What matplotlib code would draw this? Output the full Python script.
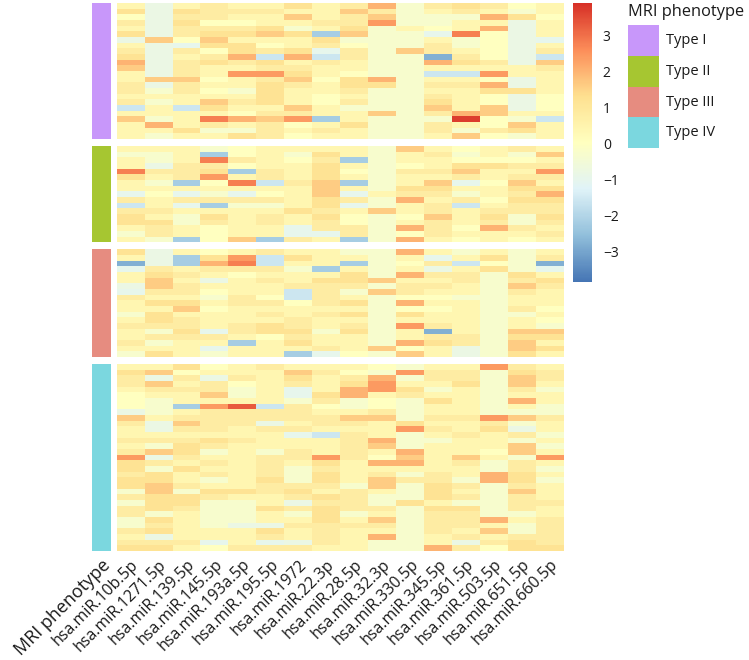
import numpy as np
import matplotlib
matplotlib.use("Agg")
import matplotlib.pyplot as plt
from matplotlib.colors import LinearSegmentedColormap, Normalize
from matplotlib.patches import Rectangle

plt.rcParams['font.family'] = ['Open Sans', 'DejaVu Sans']

# ------------------------------------------------------------------------
mirnas = ["hsa.miR.10b.5p", "hsa.miR.1271.5p", "hsa.miR.139.5p", "hsa.miR.145.5p",
          "hsa.miR.193a.5p", "hsa.miR.195.5p", "hsa.miR.1972", "hsa.miR.22.3p",
          "hsa.miR.28.5p", "hsa.miR.32.3p", "hsa.miR.330.5p", "hsa.miR.345.5p",
          "hsa.miR.361.5p", "hsa.miR.503.5p", "hsa.miR.651.5p", "hsa.miR.660.5p"]
phenotypes = ["Type I", "Type II", "Type III", "Type IV"]
pheno_colors = ["#C897FA", "#A6C631", "#E68C80", "#7BD7DF"]

# z-score level per letter
LEVELS = dict(zip("ABCDEFGHIJKLMNOPQ",
                  [-3.5, -2.8, -2.2, -1.6, -1.0, -0.8, -0.3, 0.0, 0.4,
                   0.8, 1.2, 1.6, 2.0, 2.4, 2.8, 3.3, 3.7]))

type1 = ["IFIJIIKIJMGJKJHI", "KFKJJJIILJGIJIGI", "HFJJIILIJLGGGMKH", "JFKHHIIJJNGGIIFI",
         "IFJJJKGIKGIHIMFI", "KFJKKLKCLGGEOHFI", "FLHLIIIKGGGIGHFE", "IFEKKHIJHGGJGHFI",
         "JFJHKJKEJGLJIHFJ", "KFIJMDMDJGGBJHFD", "MFJKJKIJIGGMKJFL", "LFJIIJJIIGGIIIIJ",
         "IFJINNKIHGGDDNII", "ILLHIJLHKMGIIHFI", "JFJIIKJIKKGJJMFI", "JGJHGKIIJGGIIKKI",
         "IIIIIKIHIGGJIHFH", "JGILJKIHJGGKIHFH", "DIDKIILIGGGLILFH", "IIIIHJJIILGJMLII",
         "LGIOMLNCIGGGQHGD", "IMIJIJHIKGGJIHLI", "IIKGGJIJIGGJGJKI", "IGIIKJHIIGGILHGI"]

type2 = ["IIIGHIIIIGLIHIJI", "GGICHIGKIGIJGIGL", "IGIOJIHJCGIIHHHI", "IFJJHIIKIGHIKKJJ",
         "OJJKCJIKHGJJLIIN", "KIJNIJIKIGIIJIJJ", "IGCHODJLCGILEHLI", "IIIIIIILIGKKIIKK",
         "EHEGEHILEIJJGIJM", "JIJJJJIKJGMIJHKK", "DIECGGIKEGIJDIJJ", "JJIIIIKJILIJIJJJ",
         "KIGKIJIKHGHLIKGK", "KKGJIJIJHGIJIJGJ", "IJIHIIEJJGMJHMJI", "GJIHIIEEJGHJIIIJ",
         "IGCHLCJICGMIHIHI"]

type3 = ["KFIHIJIIGGMIGIGI", "IFCKNDKIIGIEIKGJ", "BFCMODIICGHJDHGB", "EJIJJJGCIGIFIKGE",
         "IKJIHIIIKGMJJGKI", "ILIFIJIKKLIIJGJK", "FLJIIIJJJGJJIGLJ", "EJJHIIDJGLJIIGJI",
         "JIIGJHDJIGHHGGII", "IKKIJJHJKGMIIGII", "IILHIIIIIGHHIGJH", "GKIIIJIJKGKIIGGI",
         "IKJIIIJIIGIIIGIH", "JJJIJKJIJGNJIGIG", "IGKEJKKGKGIBIGLL", "IJJJIHJIIGIJJGKK",
         "JGIICIKIIGMKJGLI", "IIIEIIIJILHIFGLK", "GKIGIICEHGLIFGKI"]

type4 = ["IIKHIJIIIHGIINJI", "KLHIIILJHGNJJGKJ", "JFJFJIKIJMGJJGLJ", "JLIJHIJIKNIIKGLI",
         "IJJJGIEIMNKGIGJG", "HIILGIEKMIJIIGII", "HGIIIIGJGHGKIGMI", "HGCNPDJHGHGIIGIG",
         "FGIJJJJIIJGIIGGG", "LIJJJJJJLLGJJNLJ", "JFLJJFIJJIKIIJGI", "IFJJIJJIIINJIKFI",
         "IIIIIIEDJIGIJIJG", "JJJKJIIIJMGGIIGI", "IGKJIIIIJLGIIILG", "JLKGIGJIJIMIIHLI",
         "NFJIIJJNJHLILIGN", "KJIJIJIKIMMIJGJI", "KGKIIJGJIIIIIGJG", "JKIJIJGKIJGJIMKI",
         "KKIGIKGKILJJGMKG", "KLJIIJJJGLGKJGJI", "GLGKKJKIJIGKIGLI", "JKKJIIJKJGGKJGJI",
         "GKKGGIFJJGKIGGJJ", "JKJGGKJKJJGKKGJI", "JGIGGIGKGIGJJGGI", "GKIGGIIKILGJJMIJ",
         "GJIGFFJJJJGJJIGJ", "JKIIIKIJIIGJILGJ", "IFIIIJIJIMGIJIJJ", "JJJEIEFJIGGIFJKJ",
         "KKIHJJJIIGGMJHKK"]
# ------------------------------------------------------------------------

groups = [type1, type2, type3, type4]
cmap = LinearSegmentedColormap.from_list(
    "rdylbu", ["#4575B4", "#91BFDB", "#E0F3F8", "#FFFFBF", "#FEE090", "#FC8D59", "#D73027"])
norm = Normalize(vmin=-3.85, vmax=3.9)

W, H = 749, 660
fig = plt.figure(figsize=(W / 100, H / 100), dpi=100)
ax = fig.add_axes([91.7 / W, 1 - 551 / H, (564 - 91.7) / W, 548 / H])

gap = 1.235       # white space between the phenotype blocks, in rows
ann_l, ann_w = -0.89, 0.69
y0 = 0.0
for rows, col in zip(groups, pheno_colors):
    assert all(len(r) == len(mirnas) for r in rows)
    z = np.array([[LEVELS[c] for c in r] for r in rows])
    n = len(rows)
    ax.pcolormesh(np.arange(len(mirnas) + 1), y0 + np.arange(n + 1), z,
                  cmap=cmap, norm=norm, linewidth=0, antialiased=False)
    ax.add_patch(Rectangle((ann_l, y0), ann_w, n, color=col, lw=0))
    y0 += n + gap

ax.set_xlim(ann_l, len(mirnas))
ax.set_ylim(y0 - gap, 0)
for s in ax.spines.values():
    s.set_visible(False)
ax.set_yticks([])
ax.set_xticks([ann_l + ann_w / 2] + list(np.arange(len(mirnas)) + 0.5))
labels = ax.set_xticklabels(["MRI phenotype"] + mirnas, rotation=45, ha="right",
                            rotation_mode="anchor", fontsize=11.5, color="#1a1a1a")
labels[0].set_fontsize(13)
ax.tick_params(axis="x", length=0, pad=4)

# colour key
cax = fig.add_axes([573.3 / W, 1 - 282 / H, 18.4 / W, 279 / H])
sm = plt.cm.ScalarMappable(norm=norm, cmap=cmap)
cb = fig.colorbar(sm, cax=cax, ticks=[-3, -2, -1, 0, 1, 2, 3])
cb.outline.set_visible(False)
cax.tick_params(length=0, labelsize=10, pad=8, labelcolor="#1a1a1a")

# annotation legend
lax = fig.add_axes([0, 0, 1, 1])
lax.set_xlim(0, W)
lax.set_ylim(H, 0)
lax.axis("off")
lax.text(628, 12, "MRI phenotype", fontsize=11.8, va="center", ha="left", color="#1a1a1a")
for i, (lab, col) in enumerate(zip(phenotypes, pheno_colors)):
    top = 25 + i * 30.8
    lax.add_patch(Rectangle((628.3, top), 30.7, 30.8, color=col, lw=0))
    lax.text(666, top + 15.4, lab, fontsize=10.5, va="center", ha="left", color="#1a1a1a")

fig.savefig("out.png", dpi=100)
